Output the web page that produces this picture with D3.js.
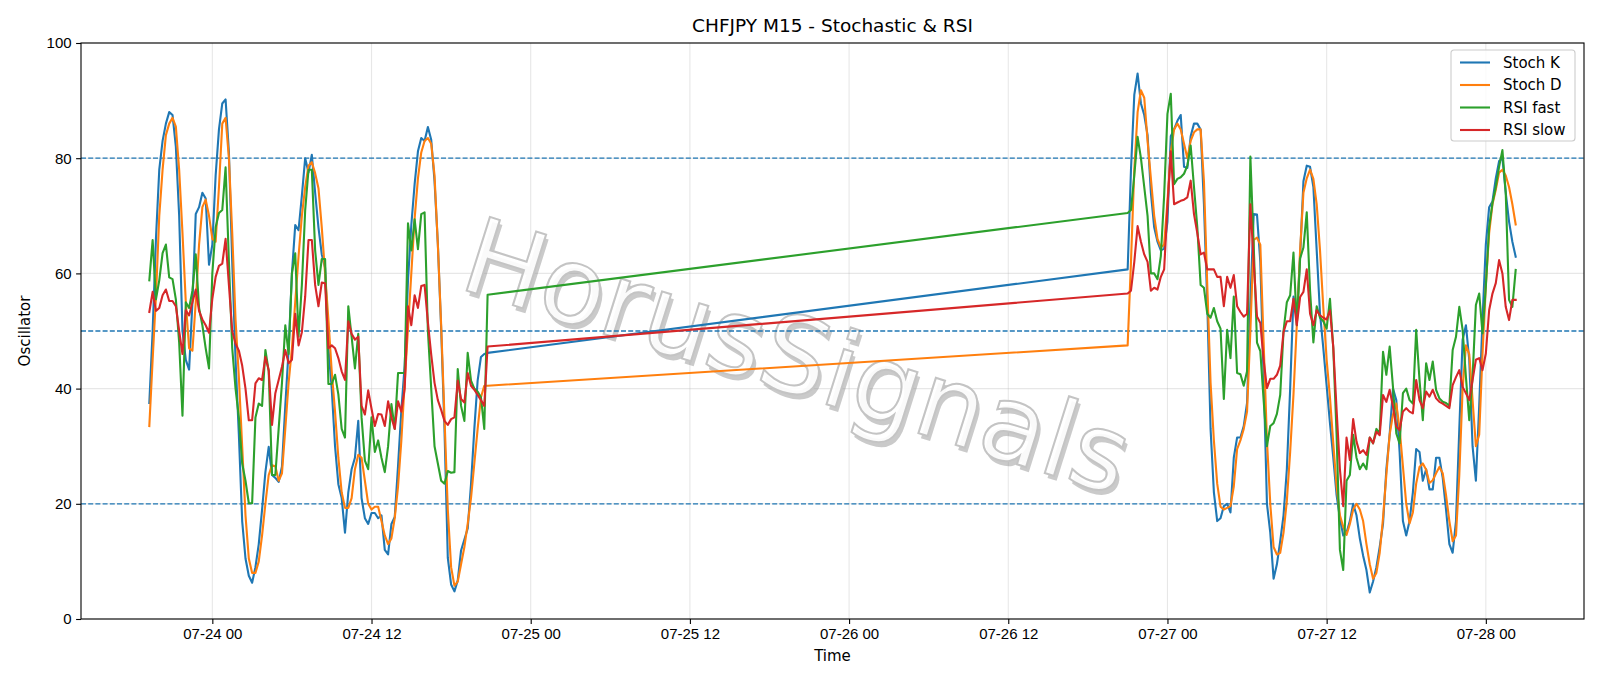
<!DOCTYPE html>
<html lang="en">
<head>
<meta charset="UTF-8">
<title>CHFJPY M15 - Stochastic & RSI</title>
<script src="https://d3js.org/d3.v7.min.js"></script>
<style>
  body { margin: 0; background: #fff; }
  svg { font-family: "DejaVu Sans", sans-serif; }
  .axis text { font-size: 15px; fill: #000; }
  .axis line { stroke: #000; stroke-width: 1.1; }
  .axis path { display: none; }
</style>
</head>
<body>
<svg id="chart" width="1600" height="686"></svg>
<script>
// two trading sessions of 15-minute bars, the weekend gap between them is just a straight line
const seg1Start = Date.UTC(2025, 6, 23, 19, 15);
const seg2Start = Date.UTC(2025, 6, 26, 21, 0);
const stepMs = 15 * 60 * 1000;

const stochK1 = [37.5,50,66,78,83,86,88,87.5,82,70,50,45,43.3,55,70.3,71.5,74,73,61.5,65,77,85,89.5,90.2,81,62,45,32,17,10.5,7.5,6.3,9,13,19,25.5,29.9,25,24.5,23.8,26.5,37,46.7,60,68.4,67.5,73.5,80,77.5,80.6,74,68,63.3,61,47,40,30,23.4,21,15,22,26,28,34.4,21,17.5,16.5,18.4,18.4,17.5,18,12,11.2,16.5,17.7,26.6,36.3,44,58.8,68.4,75.5,81.2,83.5,83,85.4,83.2,76,65.2,50.4,33,10.6,6,4.8,6.7,11.9,13.8,15.7,23.4,33,41.4,45.5,46,46.2];
const stochD1 = [33.5,45,56,70,78,84,86,87,85.5,78,67,55,47,46.6,55,65,71.5,72.8,70,66,65.5,75,86,87,80,67,52,42,30,18,10.5,8,8,10,14.5,20,25,26.7,26.5,24,25.3,33,41,47,55,63,70,75,78.7,79.3,77.4,74.8,68,60,52,43,36,28,22,19.3,19.3,21,26,28.5,28,24,20,19,19.5,19.5,17,14.5,13,14,17.5,23,31,41,50.5,60,69.5,76.5,81,83,83.5,82.5,77,65,51,35,19,9,5.8,6.5,9.5,12.5,16.5,21,27,33,38.5,40.5,40.5];
const rsiFast1 = [58.8,65.8,55.5,58.8,63.5,65,59.3,59,55.5,48,35.3,55,54,57,63.3,54,51,47,43.5,60,68,70.5,71,78.4,62,47,40,35,27,24,20.1,20.1,35,37.4,37,46.7,43,25,25,33,41,51,46,60,63.5,49,58,71,78,78,64,58,62.5,62.5,40.8,40.8,42.4,39,33,31.5,54.3,49,43.5,49.5,35,27.5,26,35,29,31,28,25.5,30,37.3,33,42.7,42.7,42.7,68.7,64,69.4,64.2,70.3,70.6,50,40,30,27,24,23.5,25.7,25.4,25.5,43.4,37,34.4,46.2,41.4,40,39.5,38.5,33,56.3];
const rsiSlow1 = [53.3,56.8,53.5,54,56.2,57.2,55.2,55.2,54.3,50,46,53.6,52.7,55,57.2,53.5,52,51,49.7,55.6,59.4,61.3,61.7,66,58,50,47.8,46.6,44,40,34.5,34.5,40.9,41.8,41.5,45.5,43.2,33.7,39.2,41.5,43.8,46.7,44.4,45,53,47.5,49.8,56,65.8,65.8,58,54.3,58.4,58.3,47,47.5,47,45.3,43,41.5,51.7,49.5,48.5,49,37,35.5,39.7,36.5,33.5,35.6,35.5,33.5,37.8,35,33,37.8,36,40,54.3,51,56.2,54,57.8,58,51.5,45.9,41,38,36.3,34.4,33.7,34.7,35,41.4,38.2,37.6,42.7,40.5,39.8,38.9,38,37,47.3];

const stochK2 = [60.7,78,91,94.7,89.5,87.5,84,74,68,65.5,64,64.3,69,83.8,85,86.5,87.5,78.5,78.3,83.8,86,86,85,72,55,33,22,17,17.5,19.6,20,18.5,28,31.5,31.5,33.5,37.5,55,70.3,70.2,62,42,20,15,7,9.5,13.5,18,26,40,56,52,63,76,78.7,78.5,75,64,53,47,40.5,34,28,21.5,17.5,14.5,15,17,20,18,14,11,8.5,4.6,6.5,9,12.5,16.5,26,32,40,38,29,17,14.5,17,22,29.5,29,24,26,22.5,22.5,28,28,24.5,19,13,11.5,17,33,48.5,51,45,30,24,37,52,65,71.5,72.5,76.5,79.5,80,74,69,65.5,62.9];
const stochD2 = [47.5,62,78,88,91.8,90.5,83,76.5,70,66,64.5,65,72.5,81,85,86,85,82.5,80,83,84.5,85,85,76,58,41,31,23.5,19.5,19,19.3,19.6,23,29.5,31,33,36,50,65.8,66.2,65,48,31,20,12.5,11.2,11.5,15,20.5,29,39,51,64,74,76.5,78,76.4,72,64,54,45,38.5,30.5,23,18,16,14.6,16.5,19,20,19,17,13,9.5,7,8,11.5,17.5,25,32,35.5,37.4,33,26.5,20,16.6,18.5,23.5,26.4,27,25.9,23.6,24.1,25.3,26.4,25.3,21.5,17,13.5,14.5,25,40,47.5,46,38,30,32,46,58,67,72,74.5,77.5,78,77,75,72,68.5];
const rsiFast2 = [70.5,71,77,83.7,80,75,70,60,60,59,63,73.5,87.7,91.2,75.5,76.4,76.7,77.3,78.7,82.2,75,68,58,57.5,53,52.3,54,51.7,50.4,38.2,50.2,45.3,56,42.7,42.5,40.5,43,80.3,65,48,46.5,38,30,33.5,34,35.6,38.9,50,55,56.2,63.6,51,62.6,64.5,70.6,57,48,54.3,52.3,51.7,50.4,55.6,47,32,12,8.5,24,25,32,28,26,27,26,31.5,30.5,33,32.2,46.4,42.4,47.3,40.3,32.2,30.5,39.2,40,38,37.4,50.2,41.5,34.5,44.4,41.5,44.7,39.8,38.3,37.7,37.5,37,46.7,49,54.2,50.2,42,34.5,42,54.5,56.5,49.6,57.7,68.1,72.2,75,78.5,81.4,74,55.4,54.2,60.6];
const rsiSlow2 = [56.5,57,62,68.2,65.5,63.3,62,57,57.5,57.2,59.4,60.7,71.6,81.2,72,72.3,72.6,72.8,73.2,76.1,70.3,67,63.3,63.6,60.7,60.7,60.7,59.4,59.4,54.3,59.4,57.5,59.7,54.3,53.3,52.5,53,72,62,52.5,51.4,45,40.1,41.7,41.7,42.4,44,49.8,51.7,51.7,55.6,51,55.9,56.8,60.7,53,51,53.6,52.7,52.3,52,53.6,47.2,36.3,26,19.6,31.5,27.6,34.7,30.8,28.8,29.3,28.5,31.5,30.5,32.5,31.9,38.9,37.7,39.8,36.9,33.4,32.8,36,36.6,36,35.7,41.5,38,36.6,39.5,38.6,39.8,38.3,37.7,37.4,37,36.6,40.6,42,43.2,40.3,39.2,38,41.5,45,45.3,43.2,46.1,53.6,56.5,58.3,62.3,60,54.2,51.9,55.4,55.4];

const seriesNames = ["Stoch K", "Stoch D", "RSI fast", "RSI slow"];
const seriesColors = ["#1f77b4", "#ff7f0e", "#2ca02c", "#d62728"];
const levels = [20, 50, 80];
const yTicks = [0, 20, 40, 60, 80, 100];

// timestamps for each bar
const times = stochK1.map((_, i) => new Date(seg1Start + i * stepMs))
  .concat(stochK2.map((_, i) => new Date(seg2Start + i * stepMs)));

const allSeries = [
  stochK1.concat(stochK2),
  stochD1.concat(stochD2),
  rsiFast1.concat(rsiFast2),
  rsiSlow1.concat(rsiSlow2)
];

const plotL = 81, plotR = 1584, plotT = 43, plotB = 619;

const svg = d3.select("#chart");

const t0 = times[0].getTime(), t1 = times[times.length - 1].getTime();
const pad = (t1 - t0) * 0.05;
const x = d3.scaleUtc().domain([t0 - pad, t1 + pad]).range([plotL, plotR]);
const y = d3.scaleLinear().domain([0, 100]).range([plotB, plotT]);

const xTicks = d3.utcHour.every(12).range(new Date(Date.UTC(2025, 6, 24, 0)), new Date(Date.UTC(2025, 6, 28, 1)));
const fmt = d3.utcFormat("%m-%d %H");

// grid
const grid = svg.append("g");
grid.selectAll(".gx").data(xTicks).join("line")
  .attr("x1", d => x(d)).attr("x2", d => x(d))
  .attr("y1", plotT).attr("y2", plotB)
  .attr("stroke", "#b0b0b0").attr("stroke-opacity", 0.3).attr("stroke-width", 1.1);
grid.selectAll(".gy").data(yTicks).join("line")
  .attr("x1", plotL).attr("x2", plotR)
  .attr("y1", d => y(d)).attr("y2", d => y(d))
  .attr("stroke", "#b0b0b0").attr("stroke-opacity", 0.3).attr("stroke-width", 1.1);

// watermark
const wm = svg.append("g").attr("transform", "translate(795,364) rotate(17.5)");
wm.append("text")
  .attr("x", 4).attr("y", 4)
  .attr("text-anchor", "middle").attr("dominant-baseline", "middle")
  .style("font-size", "106px")
  .attr("fill", "#8a8a8a").attr("fill-opacity", 0.45)
  .text("HorusSignals");
wm.append("text")
  .attr("text-anchor", "middle").attr("dominant-baseline", "middle")
  .style("font-size", "106px")
  .attr("fill", "#ffffff").attr("fill-opacity", 0.9)
  .attr("stroke", "#c4c4c4").attr("stroke-width", 2)
  .text("HorusSignals");

// reference levels
svg.selectAll(".lvl").data(levels).join("line")
  .attr("x1", plotL).attr("x2", plotR)
  .attr("y1", d => y(d)).attr("y2", d => y(d))
  .attr("stroke", "#1f77b4").attr("stroke-width", 1.3)
  .attr("stroke-dasharray", "5,2.2");

// series
const line = d3.line().x((d, i) => x(times[i])).y(d => y(d));
allSeries.forEach((vals, k) => {
  svg.append("path")
    .datum(vals)
    .attr("d", line)
    .attr("fill", "none")
    .attr("stroke", seriesColors[k])
    .attr("stroke-width", 2.1)
    .attr("stroke-linejoin", "round")
    .attr("stroke-linecap", "square");
});

// axes
svg.append("g").attr("class", "axis")
  .attr("transform", `translate(0,${plotB})`)
  .call(d3.axisBottom(x).tickValues(xTicks).tickFormat(fmt).tickSize(4.9).tickPadding(4.5));
svg.append("g").attr("class", "axis")
  .attr("transform", `translate(${plotL},0)`)
  .call(d3.axisLeft(y).tickValues(yTicks).tickSize(4.9).tickPadding(4.5));

svg.append("rect")
  .attr("x", plotL).attr("y", plotT)
  .attr("width", plotR - plotL).attr("height", plotB - plotT)
  .attr("fill", "none").attr("stroke", "#000").attr("stroke-width", 1.1);

// labels
svg.append("text").attr("x", (plotL + plotR) / 2).attr("y", 32)
  .attr("text-anchor", "middle").style("font-size", "18.5px")
  .text("CHFJPY M15 - Stochastic & RSI");
svg.append("text").attr("x", (plotL + plotR) / 2).attr("y", 661)
  .attr("text-anchor", "middle").style("font-size", "15px")
  .text("Time");
svg.append("text").attr("transform", `translate(30,${(plotT + plotB) / 2}) rotate(-90)`)
  .attr("text-anchor", "middle").style("font-size", "15px")
  .text("Oscillator");

// legend
const lg = svg.append("g").attr("transform", "translate(1451,50)");
lg.append("rect")
  .attr("width", 124).attr("height", 91).attr("rx", 3)
  .attr("fill", "#fff").attr("fill-opacity", 0.8)
  .attr("stroke", "#cccccc").attr("stroke-width", 1.1);
seriesNames.forEach((name, k) => {
  const cy = 12.5 + k * 22.5;
  lg.append("line")
    .attr("x1", 9).attr("x2", 39).attr("y1", cy).attr("y2", cy)
    .attr("stroke", seriesColors[k]).attr("stroke-width", 2.1);
  lg.append("text")
    .attr("x", 52).attr("y", cy + 5.3)
    .style("font-size", "15px")
    .text(name);
});
</script>
</body>
</html>
